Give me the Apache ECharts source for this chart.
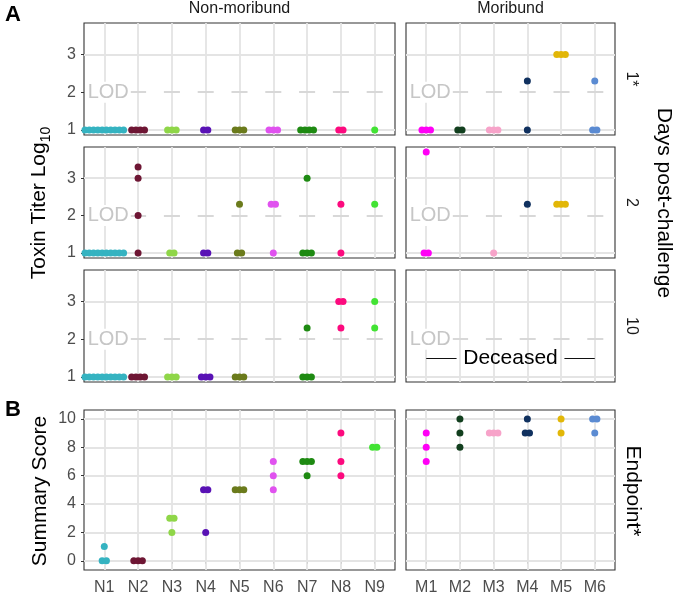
<!DOCTYPE html>
<html><head><meta charset="utf-8">
<script src="https://cdn.jsdelivr.net/npm/echarts@6/dist/echarts.min.js"></script>
<style>html,body{margin:0;padding:0;background:#fff}#c{width:675px;height:596px}</style>
</head><body><div id="c"></div>
<script>
// ---------- data ----------
const nonMoribund = ['N1','N2','N3','N4','N5','N6','N7','N8','N9'];
const moribund = ['M1','M2','M3','M4','M5','M6'];
const nonMoribundColors = ['#35b3c1','#6e1634','#8fd648','#5912b5','#6b7b1c','#e052ef','#1e8a12','#fc0a7e','#42e333'];
const moribundColors = ['#ff00f6','#123f1e','#f7a3c9','#10315f','#e2b708','#5b8bd2'];
const dayLabels = ['1*','2','10'];
const titerTicks = [1,2,3];
const scoreTicks = [0,2,4,6,8,10];
const lodValue = 2;
const titerRange = [0.865, 3.835];
const scoreRange = [-0.65, 10.63];

const titerDay1Non = [[1,1,1,1,1,1,1,1,1,1],[1,1,1,1],[1,1,1],[1,1],[1,1,1],[1,1,1],[1,1,1,1],[1,1],[1]];
const titerDay1Mor = [[1,1,1],[1,1],[1,1,1],[1,2.3],[3,3,3],[1,1,2.3]];
const titerDay2Non = [[1,1,1,1,1,1,1,1,1,1],[1,2,3,3.3],[1,1],[1,1],[1,1,2.3],[1,2.3,2.3],[1,1,1,3],[1,2.3],[2.3]];
const titerDay2Mor = [[1,1,3.7],[],[1],[2.3],[2.3,2.3,2.3],[]];
const titerDay10Non = [[1,1,1,1,1,1,1,1,1,1],[1,1,1,1],[1,1,1],[1,1,1],[1,1,1],[],[1,1,1,2.3],[2.3,3,3],[2.3,3]];
const titerDay10Mor = [[],[],[],[],[],[]];
const scoreNon = [[0,0,1],[0,0,0],[2,3,3],[2,5,5],[5,5,5],[5,6,7],[6,7,7,7],[6,7,9],[8,8]];
const scoreMor = [[7,8,9],[8,9,10],[9,9,9],[9,9,10],[9,10],[9,10,10]];
const deceasedLabel = 'Deceased';
const deceasedLevel = 1.5;

// ---------- layout ----------
const colLeft = [84, 406];
const colWidth = [311, 209];
const rowTop = [23, 147, 270, 410];
const rowHeight = [112, 111, 112, 162];
const stackStep = 0.127;
const gridColor = '#e4e4e4';
const font = 'Liberation Sans, Arial';

function dots(groups, colors) {
  const out = [];
  groups.forEach((vals, i) => {
    const counts = {};
    vals.forEach(v => { counts[v] = (counts[v] || 0) + 1; });
    Object.keys(counts).forEach(k => {
      const n = counts[k];
      for (let j = 0; j < n; j++) {
        out.push({ value: [i + 1 + (j - (n - 1) / 2) * stackStep, +k], itemStyle: { color: colors[i], opacity: 1 } });
      }
    });
  });
  return out;
}

const panels = [
  [titerDay1Non, titerDay1Mor],
  [titerDay2Non, titerDay2Mor],
  [titerDay10Non, titerDay10Mor],
  [scoreNon, scoreMor]
];

const grids = [], xAxes = [], yAxes = [], series = [];
for (let r = 0; r < 4; r++) {
  for (let c = 0; c < 2; c++) {
    const gi = grids.length;
    const names = c === 0 ? nonMoribund : moribund;
    const colors = c === 0 ? nonMoribundColors : moribundColors;
    const isScore = r === 3;
    const range = isScore ? scoreRange : titerRange;
    const ticks = isScore ? scoreTicks : titerTicks;
    const idx = names.map((_, i) => i + 1);
    grids.push({ left: colLeft[c], width: colWidth[c], top: rowTop[r], height: rowHeight[r],
      show: true, borderColor: '#333', borderWidth: 1.1, backgroundColor: '#fff' });
    xAxes.push({ type: 'value', gridIndex: gi, min: 0.4, max: names.length + 0.6,
      axisLine: { show: false }, splitLine: { show: false },
      axisTick: { show: isScore, customValues: idx, length: 3, lineStyle: { color: '#333' } },
      axisLabel: { show: isScore, customValues: idx, formatter: v => names[Math.round(v) - 1],
        color: '#4d4d4d', fontSize: 16, fontFamily: font, margin: 10 } });
    yAxes.push({ type: 'value', gridIndex: gi, min: range[0], max: range[1],
      axisLine: { show: false }, splitLine: { show: false },
      axisTick: { show: c === 0, customValues: ticks, length: 3, lineStyle: { color: '#333' } },
      axisLabel: { show: c === 0, customValues: ticks, color: '#4d4d4d', fontSize: 16,
        fontFamily: font, margin: 8 } });

    const mlData = idx.map(x => ({ xAxis: x }));
    ticks.filter(t => isScore || t !== lodValue).forEach(t => mlData.push({ yAxis: t }));
    const mpData = [];
    if (!isScore) {
      mlData.push({ yAxis: lodValue, lineStyle: { color: '#d8d8d8', width: 2, type: [16, 17.8], dashOffset: 21.5 } });
      mpData.push({ coord: [0.42, lodValue], symbolSize: 0,
        label: { show: true, position: 'right', distance: 2, formatter: 'LOD', color: '#c6c6c6', fontSize: 20,
          fontFamily: font, backgroundColor: '#fff', padding: [1, 2, 0, 1] } });
    }
    if (r === 2 && c === 1) {
      mlData.push([{ coord: [1, deceasedLevel], lineStyle: { color: '#111', width: 1, type: 'solid' } }, { coord: [1.9, deceasedLevel] }]);
      mlData.push([{ coord: [5.1, deceasedLevel], lineStyle: { color: '#111', width: 1, type: 'solid' } }, { coord: [6, deceasedLevel] }]);
      mpData.push({ coord: [3.5, deceasedLevel], symbolSize: 0,
        label: { show: true, position: 'inside', formatter: deceasedLabel, color: '#000', fontSize: 21,
          fontFamily: font } });
    }
    series.push({ type: 'scatter', xAxisIndex: gi, yAxisIndex: gi, data: [], z: 1, silent: true,
      markLine: { silent: true, symbol: ['none', 'none'], z: 1, animation: false,
        label: { show: false }, lineStyle: { color: gridColor, width: 1.8, type: 'solid' }, data: mlData },
      markPoint: { silent: true, symbol: 'circle', z: 2, animation: false, itemStyle: { color: 'transparent' }, data: mpData } });
    series.push({ type: 'scatter', xAxisIndex: gi, yAxisIndex: gi, z: 10, symbolSize: 7,
      itemStyle: { opacity: 1 }, data: dots(panels[r][c], colors), silent: true });
  }
}

const graphics = [
  { type: 'text', x: 13, y: 15, style: { text: 'A', font: 'bold 22px ' + font, fill: '#000', align: 'center', verticalAlign: 'middle' } },
  { type: 'text', x: 13, y: 410, style: { text: 'B', font: 'bold 22px ' + font, fill: '#000', align: 'center', verticalAlign: 'middle' } },
  { type: 'text', x: colLeft[0] + colWidth[0] / 2, y: 9, style: { text: 'Non-moribund', font: '16px ' + font, fill: '#1a1a1a', align: 'center', verticalAlign: 'middle' } },
  { type: 'text', x: colLeft[1] + colWidth[1] / 2, y: 9, style: { text: 'Moribund', font: '16px ' + font, fill: '#1a1a1a', align: 'center', verticalAlign: 'middle' } },
  { type: 'text', x: 664, y: 203, rotation: -Math.PI / 2, style: { text: 'Days post-challenge', font: '21px ' + font, fill: '#000', align: 'center', verticalAlign: 'middle' } },
  { type: 'text', x: 633, y: 491, rotation: -Math.PI / 2, style: { text: 'Endpoint*', font: '21px ' + font, fill: '#000', align: 'center', verticalAlign: 'middle' } },
  { type: 'text', x: 40, y: 491, rotation: Math.PI / 2, style: { text: 'Summary Score', font: '21px ' + font, fill: '#000', align: 'center', verticalAlign: 'middle' } },
  { type: 'text', x: 40, y: 203, rotation: Math.PI / 2, style: { text: '{m|Toxin Titer Log}{s|10}', align: 'center', verticalAlign: 'middle',
      rich: { m: { fontSize: 21, fontFamily: font, fill: '#000', color: '#000', verticalAlign: 'top', lineHeight: 23 },
              s: { fontSize: 14, fontFamily: font, fill: '#000', color: '#000', verticalAlign: 'top', lineHeight: 14, padding: [11, 0, 0, 0] } } } }
];
dayLabels.forEach((d, r) => {
  graphics.push({ type: 'text', x: 631, y: rowTop[r] + rowHeight[r] / 2, rotation: -Math.PI / 2,
    style: { text: d, font: '16px ' + font, fill: '#1a1a1a', align: 'center', verticalAlign: 'middle' } });
});

const chart = echarts.init(document.getElementById('c'), null, { renderer: 'canvas' });
chart.setOption({ animation: false, backgroundColor: '#fff', grid: grids, xAxis: xAxes, yAxis: yAxes, series, graphic: graphics });
</script></body></html>
